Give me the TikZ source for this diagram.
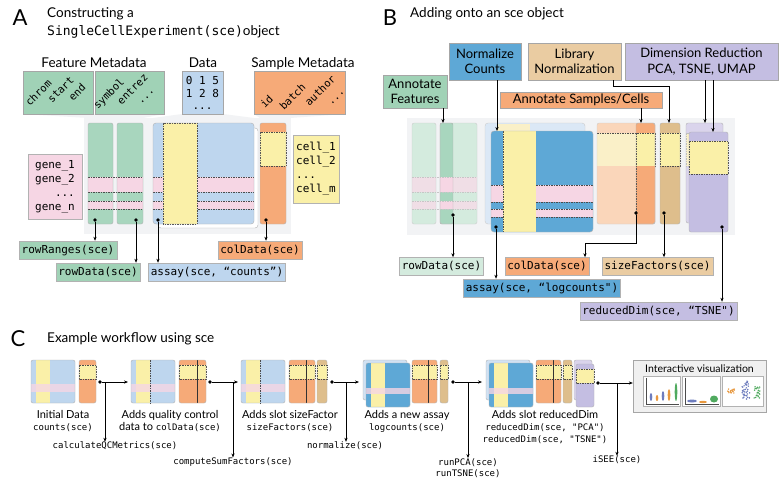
\documentclass[tikz,border=0pt]{standalone}
\usepackage{fontspec}
\setmainfont{Lato}
\setmonofont{DejaVu Sans Mono}
\usetikzlibrary{positioning,calc,arrows.meta}

\definecolor{fgreen}{RGB}{160,210,182}
\definecolor{cgreen}{RGB}{168,214,190}
\definecolor{lgreen}{RGB}{212,235,222}
\definecolor{lblue}{RGB}{190,214,238}
\definecolor{dblue}{RGB}{94,168,214}
\definecolor{sorange}{RGB}{246,170,120}
\definecolor{lorange}{RGB}{250,214,186}
\definecolor{syellow}{RGB}{250,240,168}
\definecolor{lyellow}{RGB}{250,240,200}
\definecolor{spink}{RGB}{246,214,228}
\definecolor{lpink}{RGB}{240,222,230}
\definecolor{stan}{RGB}{234,204,162}
\definecolor{dtan}{RGB}{222,190,140}
\definecolor{slav}{RGB}{196,190,226}
\definecolor{llav}{RGB}{218,212,236}
\definecolor{bgray}{RGB}{242,243,245}
\definecolor{vblue}{RGB}{110,125,190}
\definecolor{vorange}{RGB}{232,152,62}
\definecolor{vgreen}{RGB}{80,170,95}

\newcommand{\codetxt}[1]{{\ttfamily\fontsize{9}{12}\selectfont #1}}

\begin{document}
\begin{tikzpicture}[x=1pt, y=-1pt,
    bigl/.style={font=\fontsize{22}{22}\selectfont, inner sep=0pt, anchor=base},
    hdr/.style={font=\fontsize{13.5}{16}\selectfont, inner sep=0pt, anchor=base},
    tbox/.style={draw=gray!70, line width=.5pt, align=center, inner sep=0pt, font=\fontsize{13}{15.5}\selectfont},
    codebox/.style={draw=gray!60, line width=.5pt, inner sep=2.5pt, minimum height=18, font=\ttfamily\fontsize{11}{13}\selectfont},
    mono/.style={draw=gray!60, line width=.5pt, align=left, inner sep=3pt, font=\ttfamily\fontsize{11}{14}\selectfont},
    rot/.style={rotate=45, anchor=north west, align=left, inner sep=0pt, font=\ttfamily\fontsize{10.5}{13.5}\selectfont},
    captxt/.style={align=center, inner sep=0pt, anchor=north, font=\fontsize{11}{12}\selectfont},
    ctt/.style={align=center, inner sep=0pt, font=\ttfamily\fontsize{9}{11.5}\selectfont},
    colm/.style={draw=gray!60, line width=.4pt, rounded corners=2},
    band/.style={draw=gray!60!black, line width=.4pt, dash pattern=on 1.5pt off 1pt},
    blob/.style={circle, fill=black, inner sep=0pt, minimum size=3.6pt},
    arr/.style={-{Stealth[length=4pt,width=3.2pt]}, line width=.6pt},
]
\useasboundingbox (0,0) rectangle (783,491);
\fill[white] (0,0) rectangle (783,491);

%%% panel A
\node[bigl] (labA) at (20,25) {A};
\node[hdr, anchor=base west] (titA1) at (47,17) {Constructing a};
\node[hdr, anchor=base west] (titA2) at (47,35) {{\ttfamily\fontsize{13}{15}\selectfont SingleCellExperiment(sce)}object};

\node[hdr] (fmeta) at (94,67) {Feature Metadata};
\node[hdr] (dmeta) at (203,67) {Data};
\node[hdr] (smeta) at (303,67) {Sample Metadata};

% funnels and background
\fill[bgray] (23,114) -- (164,114) -- (143,118) -- (88,118) -- cycle;
\fill[bgray] (182,114) -- (223,114) -- (254,118) -- (153,118) -- cycle;
\fill[bgray] (254,114) -- (345,114) -- (290,118) -- (260,118) -- cycle;
\fill[bgray] (84,118) rectangle (291,234);

% header boxes
\draw[gray!70, fill=fgreen] (23,71) rectangle (93,114);
\draw[gray!70, fill=fgreen] (95,71) rectangle (164,114);
\draw[gray!70, fill=lblue] (182,71) rectangle (223,114);
\draw[gray!70, fill=sorange] (254,71) rectangle (345,114);
\node[rot] (frange) at (24,101) {chrom\\\hspace*{18pt}start\\\hspace*{34pt}end};
\node[rot] (fanno) at (92,104) {symbol\\\hspace*{20pt}entrez\\\hspace*{34pt}...};
\node[align=center, inner sep=0pt, font=\ttfamily\fontsize{11}{12.5}\selectfont] (nums) at (202.5,93) {0 1 5\\1 2 8\\...};
\node[rot, font=\ttfamily\fontsize{10.5}{15}\selectfont] (sanno) at (259,103) {id\\\hspace*{12pt}batch\\\hspace*{33pt}author\\\hspace*{49pt}...};

% feature columns
\fill[cgreen, rounded corners=2] (88,123) rectangle (113,224);
\fill[cgreen, rounded corners=2] (117,123) rectangle (143,224);
% assay matrix
\draw[colm, fill=white, rounded corners=3] (158,128) rectangle (258,228);
\fill[lblue, rounded corners=3] (153,123) rectangle (254,224);
\foreach \ya/\yb in {177/192, 201/209} {
  \fill[spink] (88,\ya) rectangle (113,\yb);
  \fill[spink] (117,\ya) rectangle (143,\yb);
  \fill[spink] (153,\ya) rectangle (254,\yb);
}
\foreach \y in {177,192,201,209}
  \draw[band] (88,\y) -- (143,\y) (153,\y) -- (254,\y);
\draw[band, fill=syellow] (163,123) rectangle (197,224);
\draw[colm] (88,123) rectangle (113,224);
\draw[colm] (117,123) rectangle (143,224);
\draw[colm, rounded corners=3] (153,123) rectangle (254,224);
% sample column
\fill[sorange, rounded corners=2] (260,123) rectangle (286,224);
\draw[band, fill=syellow] (260,132) rectangle (286,166);
\draw[colm] (260,123) rectangle (286,224);

\node[mono, fill=spink, minimum width=54, minimum height=65] (genes) at (55,186.5) {gene\_1\\gene\_2\\\phantom{gen}...\\gene\_n};
\node[mono, fill=syellow, minimum width=46, minimum height=68] (cells) at (316,169) {cell\_1\\cell\_2\\...\\cell\_m};

\node[blob] (dA1) at (95,220) {};
\node[blob] (dA2) at (136,220) {};
\node[blob] (dA3) at (158,220) {};
\node[blob] (dA4) at (266,220) {};
\node[codebox, fill=fgreen] (rrA) at (68,250) {rowRanges(sce)};
\node[codebox, fill=fgreen] (rdA) at (98,272) {rowData(sce)};
\node[codebox, fill=lblue] (asA) at (217,272) {assay(sce, “counts”)};
\node[codebox, fill=sorange] (cdA) at (260,250) {colData(sce)};
\draw[arr] (dA1) -- (dA1 |- rrA.north);
\draw[arr] (dA2) -- (dA2 |- rdA.north);
\draw[arr] (dA3) -- (dA3 |- asA.north);
\draw[arr] (dA4) -- (dA4 |- cdA.north);

%%% panel B
\node[bigl] (labB) at (390,25) {B};
\node[hdr, anchor=base west] (titB) at (410,17) {Adding onto an sce object};

\node[tbox, fill=dblue, minimum width=72, minimum height=37] (normc) at (485,61.5) {Normalize\\Counts};
\node[tbox, fill=stan, minimum width=93, minimum height=37] (libn) at (574.5,61.5) {Library\\Normalization};
\node[tbox, fill=slav, minimum width=153, minimum height=37] (dimr) at (701.5,61.5) {Dimension Reduction\\PCA, TSNE, UMAP};
\node[tbox, fill=fgreen, minimum width=64, minimum height=33] (annf) at (415,91.5) {Annotate\\Features};
\node[tbox, fill=sorange, minimum width=162, minimum height=16] (anns) at (581,100) {Annotate Samples/Cells};

\fill[bgray] (407,118) rectangle (735,235);

% features
\fill[lgreen, rounded corners=2] (412,123) rectangle (436,224);
\fill[lgreen, rounded corners=2] (440,123) rectangle (477,224);
\fill[cgreen] (440,123) rectangle (453,224);
\foreach \ya/\yb in {177/192, 201/209} {
  \fill[lpink] (412,\ya) rectangle (436,\yb);
  \fill[lpink] (453,\ya) rectangle (477,\yb);
  \fill[spink] (440,\ya) rectangle (453,\yb);
}
\foreach \y in {177,192,201,209}
  \draw[band, draw=gray!45] (412,\y) -- (477,\y);
\draw[colm, draw=gray!40] (412,123) rectangle (436,224);
\draw[colm, draw=gray!40] (440,123) rectangle (477,224);
\draw[colm] (440,123) rectangle (453,224);

% assays
\draw[colm, draw=gray!40, fill=lblue!55, rounded corners=3] (485,123) rectangle (585,224);
\fill[lyellow] (497,123.5) rectangle (530,131);
\fill[dblue, rounded corners=3] (491,131) rectangle (593,232);
\foreach \ya/\yb in {185/202, 209/217}
  \fill[spink] (491,\ya) rectangle (593,\yb);
\foreach \y in {185,202,209,217}
  \draw[band] (491,\y) -- (593,\y);
\fill[syellow] (503,131) rectangle (536,232);
\draw[band] (503,131) -- (503,232);
\draw[colm, rounded corners=3] (491,131) rectangle (593,232);

% samples
\fill[lorange, rounded corners=2] (597,123) rectangle (655,224);
\fill[sorange, rounded corners=2] (636,123) rectangle (655,224);
\fill[lyellow] (597,133) rectangle (636,166);
\fill[syellow] (636,133) rectangle (655,166);
\draw[band] (597,133) -- (655,133) (636,133) -- (636,224) (655,133) -- (655,166);
\draw[colm, draw=gray!40] (597,123) rectangle (655,224);
\draw[colm] (636,123) rectangle (655,224);
% size factors
\fill[dtan, rounded corners=2] (660,123) rectangle (680,224);
\draw[band, fill=syellow] (660,133) rectangle (680,166);
\draw[colm] (660,123) rectangle (680,224);
% reduced dims
\draw[colm, fill=llav] (686,123) rectangle (723,223);
\draw[band, draw=gray!50, fill=lyellow] (686,133) rectangle (723,166);
\fill[slav, rounded corners=2] (689,132) rectangle (728,232);
\draw[band, fill=syellow] (689,141) rectangle (728,174);
\draw[colm] (689,132) rectangle (728,232);

\coordinate (gtop) at (443,123);
\coordinate (btop) at (497,131);
\coordinate (otop) at (641,123);
\coordinate (ttop) at (669,123);
\coordinate (ltop1) at (705,123);
\coordinate (ltop2) at (713,132);
\draw[arr] (annf.south -| gtop) -- (gtop);
\draw[arr] (normc.south -| btop) -- (btop);
\draw[arr] (anns.south -| otop) -- (otop);
\draw[arr] ([xshift=38.5]libn.south) -- ++(0,6) -| (ttop);
\draw[arr] (dimr.south -| ltop1) -- (ltop1);
\draw[arr] (dimr.south -| ltop2) -- (ltop2);

\node[blob] (dB1) at (453,215) {};
\node[blob] (dB2) at (496,227) {};
\node[blob] (dB3) at (636,213) {};
\node[blob] (dB4) at (664,213) {};
\node[blob] (dB5) at (722,227) {};
\node[codebox, fill=lgreen] (rdB) at (441.5,266.5) {rowData(sce)};
\node[codebox, fill=dblue] (asB) at (542,288) {assay(sce, “logcounts")};
\node[codebox, fill=sorange] (cdB) at (547,266.5) {colData(sce)};
\node[codebox, fill=stan] (sfB) at (657.5,266.5) {sizeFactors(sce)};
\node[codebox, fill=slav] (rdimB) at (658.5,311) {reducedDim(sce, “TSNE")};
\draw[arr] (dB1) -- (dB1 |- rdB.north);
\draw[arr] (dB2) -- (dB2 |- asB.north);
\draw[arr] (dB3) -- ++(0,30) -| ([xshift=38]cdB.north);
\draw[arr] (dB4) -- (dB4 |- sfB.north);
\draw[arr] (dB5) -- (dB5 |- rdimB.north);

%%% panel C
\node[bigl] (labC) at (18,346) {C};
\node[hdr, anchor=base west] (titC) at (47,342) {Example workflow using sce};

% assays
\foreach \x in {31,131,241} {
  \fill[lblue, rounded corners=2] (\x,360) rectangle ++(44,43);
  \fill[syellow] (\x+5,360) rectangle ++(14,43);
  \fill[spink, opacity=.8] (\x,384) rectangle ++(44,8);
  \draw[colm] (\x,360) rectangle ++(44,43);
}
\foreach \x in {131,241}
  \draw[band] (\x+19,360) -- (\x+19,403);
\foreach \x in {363,486} {
  \draw[colm, fill=lblue!70] (\x,360) rectangle ++(44,40);
  \fill[dblue, rounded corners=2] (\x+3,363) rectangle ++(44,44);
  \fill[syellow] (\x+8,363) rectangle ++(14,44);
  \fill[spink, opacity=.8] (\x+3,388) rectangle ++(44,6);
  \draw[colm] (\x+3,363) rectangle ++(44,44);
}
% column data
\fill[sorange, rounded corners=2] (79,360) rectangle (96,403);
\draw[band, fill=syellow] (79,365) rectangle (96,379);
\draw[colm] (79,360) rectangle (96,403);
\foreach \xa/\xm/\xb in {179/197/206, 289/306/315, 412/428/437, 536/553/561} {
  \fill[sorange, rounded corners=2] (\xa,360) rectangle (\xb,403);
  \draw[band, fill=syellow] (\xa,365) rectangle (\xb,379);
  \draw[gray!40!black, line width=.4pt] (\xm,360) -- (\xm,403);
  \draw[colm] (\xa,360) rectangle (\xb,403);
}
\foreach \xa/\xb in {317/327, 440/448, 563/572} {
  \fill[dtan, rounded corners=2] (\xa,360) rectangle (\xb,403);
  \draw[band, fill=syellow] (\xa,365) rectangle (\xb,379);
  \draw[colm] (\xa,360) rectangle (\xb,403);
}
\draw[colm, fill=llav] (574,360) rectangle (592,400);
\fill[slav, rounded corners=2] (576,364) rectangle (594,407);
\draw[band, fill=syellow] (576,369) rectangle (594,383);
\draw[colm] (576,364) rectangle (594,407);

% captions
\node[captxt] (cap1) at (63,410) {Initial Data\\\codetxt{counts(sce)}};
\node[captxt] (cap2) at (170,410) {Adds quality control\\data to \codetxt{colData(sce)}};
\node[captxt] (cap3) at (290,410) {Adds slot sizeFactor\\\codetxt{sizeFactors(sce)}};
\node[captxt] (cap4) at (407,410) {Adds a new assay\\\codetxt{logcounts(sce)}};
\node[captxt] (cap5) at (545,410) {Adds slot reducedDim\\\codetxt{reducedDim(sce, "PCA")}\\\codetxt{reducedDim(sce, "TSNE")}};

% interactive view
\node[draw=gray!70, fill=gray!12, minimum width=133, minimum height=52, inner sep=0pt] (viz) at (699.5,386) {};
\node[inner sep=0pt, font=\fontsize{10.5}{11}\selectfont] (vizt) at (699.5,368.5) {Interactive visualization};
\foreach \xa/\xb in {643/680, 682/720, 722/763}
  \draw[gray!60, fill=white] (\xa,376) rectangle (\xb,406);
\draw[gray!60!black, line width=.3pt] (646,378) -- (646,404) -- (679,404);
\foreach \x/\c/\h in {651/vblue/4, 657/vorange/3, 663/vblue/5, 669/vorange/6, 676/vgreen/9}
  \fill[\c] (\x,401-\h) ellipse (1.3 and \h);
\draw[gray!60!black, line width=.3pt] (685,378) -- (685,404) -- (719,404);
\fill[vblue] (692,401) ellipse (5 and 1.5);
\fill[vorange] (703,402) ellipse (4 and 1.2);
\fill[vgreen] (714,399) ellipse (4 and 3.5);
\pgfmathsetseed{7}
\foreach \i in {1,...,18}
  \fill[vorange] ($(731,391)+(4*rand,2*rand)$) circle (0.8);
\foreach \i in {1,...,40}
  \fill[vblue] ($(746,390)+(4*rand,9*rand)$) circle (0.8);
\foreach \i in {1,...,25}
  \fill[vgreen] ($(757,392)+(3*rand,6*rand)$) circle (0.8);

% workflow arrows
\coordinate (m2) at (128,382);
\coordinate (m3) at (238,382);
\coordinate (m4) at (359,382);
\node[blob] (c1) at (100,382) {};
\node[blob] (c2) at (210,382) {};
\node[blob] (c3) at (332,382) {};
\node[blob] (c4) at (453,382) {};
\node[blob] (c5) at (598,383) {};
\coordinate (c1b) at (105,382);
\coordinate (c2b) at (233,382);
\coordinate (c3b) at (346,382);
\coordinate (c4b) at (468,382);
\coordinate (c5b) at (617,383);
\coordinate (m5) at (482,382);
\node[ctt] (qc) at (115,446) {calculateQCMetrics(sce)};
\node[ctt] (csf) at (233,462) {computeSumFactors(sce)};
\node[ctt] (nrm) at (345,446) {normalize(sce)};
\node[ctt] (rpt) at (468,468) {runPCA(sce)\\runTSNE(sce)};
\node[ctt] (isee) at (617,460) {iSEE(sce)};
\draw[arr] (c1) -- (m2);
\draw[arr] (c2) -- (m3);
\draw[arr] (c3) -- (m4);
\draw[arr] (c4) -- (m5);
\draw[arr] (c5) -- (c5 -| viz.west);
\draw[arr] (c1b) -- (c1b |- qc.north);
\draw[arr] (c2b) -- (c2b |- csf.north);
\draw[arr] (c3b) -- (c3b |- nrm.north);
\draw[arr] (c4b) -- (c4b |- rpt.north);
\draw[arr] (c5b) -- (c5b |- isee.north);
\end{tikzpicture}
\end{document}
